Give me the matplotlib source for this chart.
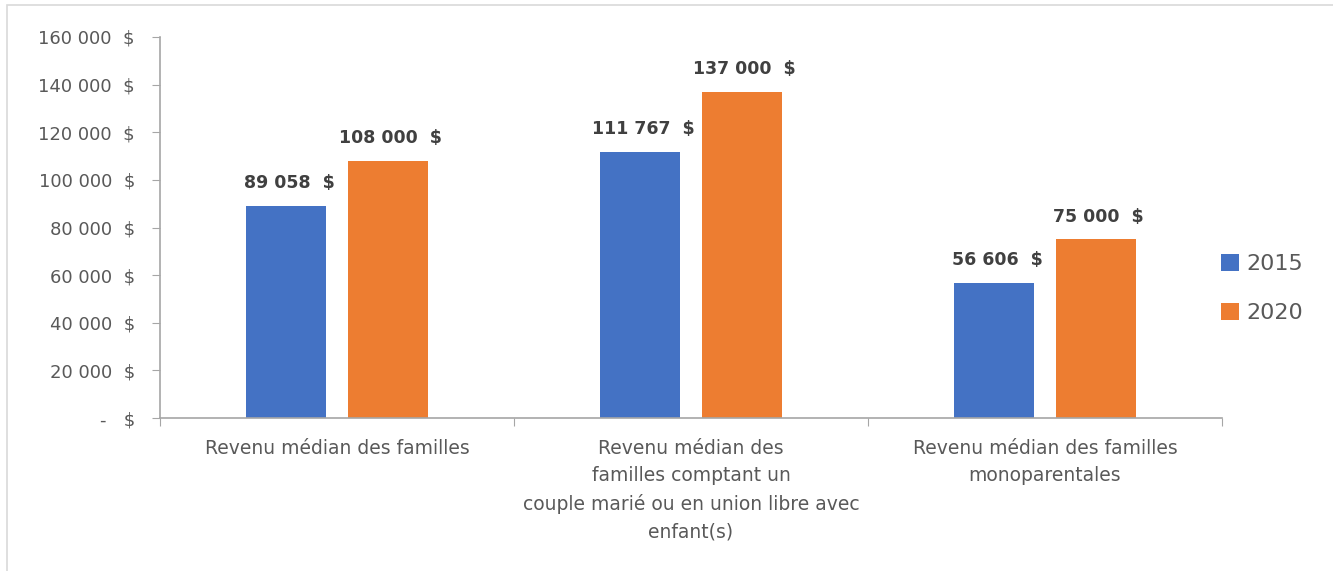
import matplotlib.pyplot as plt
import numpy as np
from matplotlib.patches import Rectangle

categories = [
    "Revenu médian des familles",
    "Revenu médian des\nfamilles comptant un\ncouple marié ou en union libre avec\nenfant(s)",
    "Revenu médian des familles\nmonoparentales",
]
series_names = ["2015", "2020"]
values_2015 = [89058, 111767, 56606]
values_2020 = [108000, 137000, 75000]
y_ticks = [0, 20000, 40000, 60000, 80000, 100000, 120000, 140000, 160000]

blue = "#4472C4"
orange = "#ED7D31"
grey_text = "#595959"


def money(v):
    if v == 0:
        return "-   $"
    return f"{v:,.0f}".replace(",", " ") + "  $"


fig = plt.figure(figsize=(13.33, 5.71), dpi=100)
fig.patches.append(Rectangle((7 / 1333, -0.1), 1.2, (571 - 5) / 571 + 0.1,
                             transform=fig.transFigure, fill=False,
                             edgecolor="#D9D9D9", linewidth=1.2))
ax = fig.add_axes([160 / 1333, 1 - 418 / 571, (1222 - 160) / 1333, (418 - 37) / 571])

x = np.arange(len(categories))
w = 0.226
off = 0.143
b1 = ax.bar(x - off, values_2015, w, color=blue, label=series_names[0])
b2 = ax.bar(x + off, values_2020, w, color=orange, label=series_names[1])

for bars, vals in [(b1, values_2015), (b2, values_2020)]:
    for rect, v in zip(bars, vals):
        ax.annotate(money(v), (rect.get_x() + rect.get_width() / 2, v),
                    xytext=(2, 10), textcoords="offset points",
                    ha="center", va="bottom", fontsize=12.5,
                    fontweight="bold", color="#404040")

ax.set_xlim(-0.5, 2.5)
ax.set_ylim(0, 160000)
ax.set_yticks(y_ticks)
ax.set_yticklabels([money(v) for v in y_ticks], fontsize=13, color=grey_text)
ax.tick_params(axis="y", length=6, color="#A6A6A6", pad=12)

ax.set_xticks([-0.5, 0.5, 1.5, 2.5])
ax.set_xticklabels([])
ax.tick_params(axis="x", length=6, color="#A6A6A6")
for xi, lab in zip(x, categories):
    ax.text(xi, -0.055, lab, transform=ax.get_xaxis_transform(), ha="center",
            va="top", fontsize=13.5, color=grey_text, linespacing=1.55)

for s in ["top", "right"]:
    ax.spines[s].set_visible(False)
for s in ["left", "bottom"]:
    ax.spines[s].set_color("#A6A6A6")
    ax.spines[s].set_linewidth(1.2)

leg = ax.legend(loc="center left", bbox_to_anchor=(0.98, 0.34), frameon=False,
                fontsize=16, handlelength=0.8, handleheight=0.8,
                handletextpad=0.35, labelspacing=1.3, labelcolor=grey_text)

fig.savefig("out.png", dpi=100)
